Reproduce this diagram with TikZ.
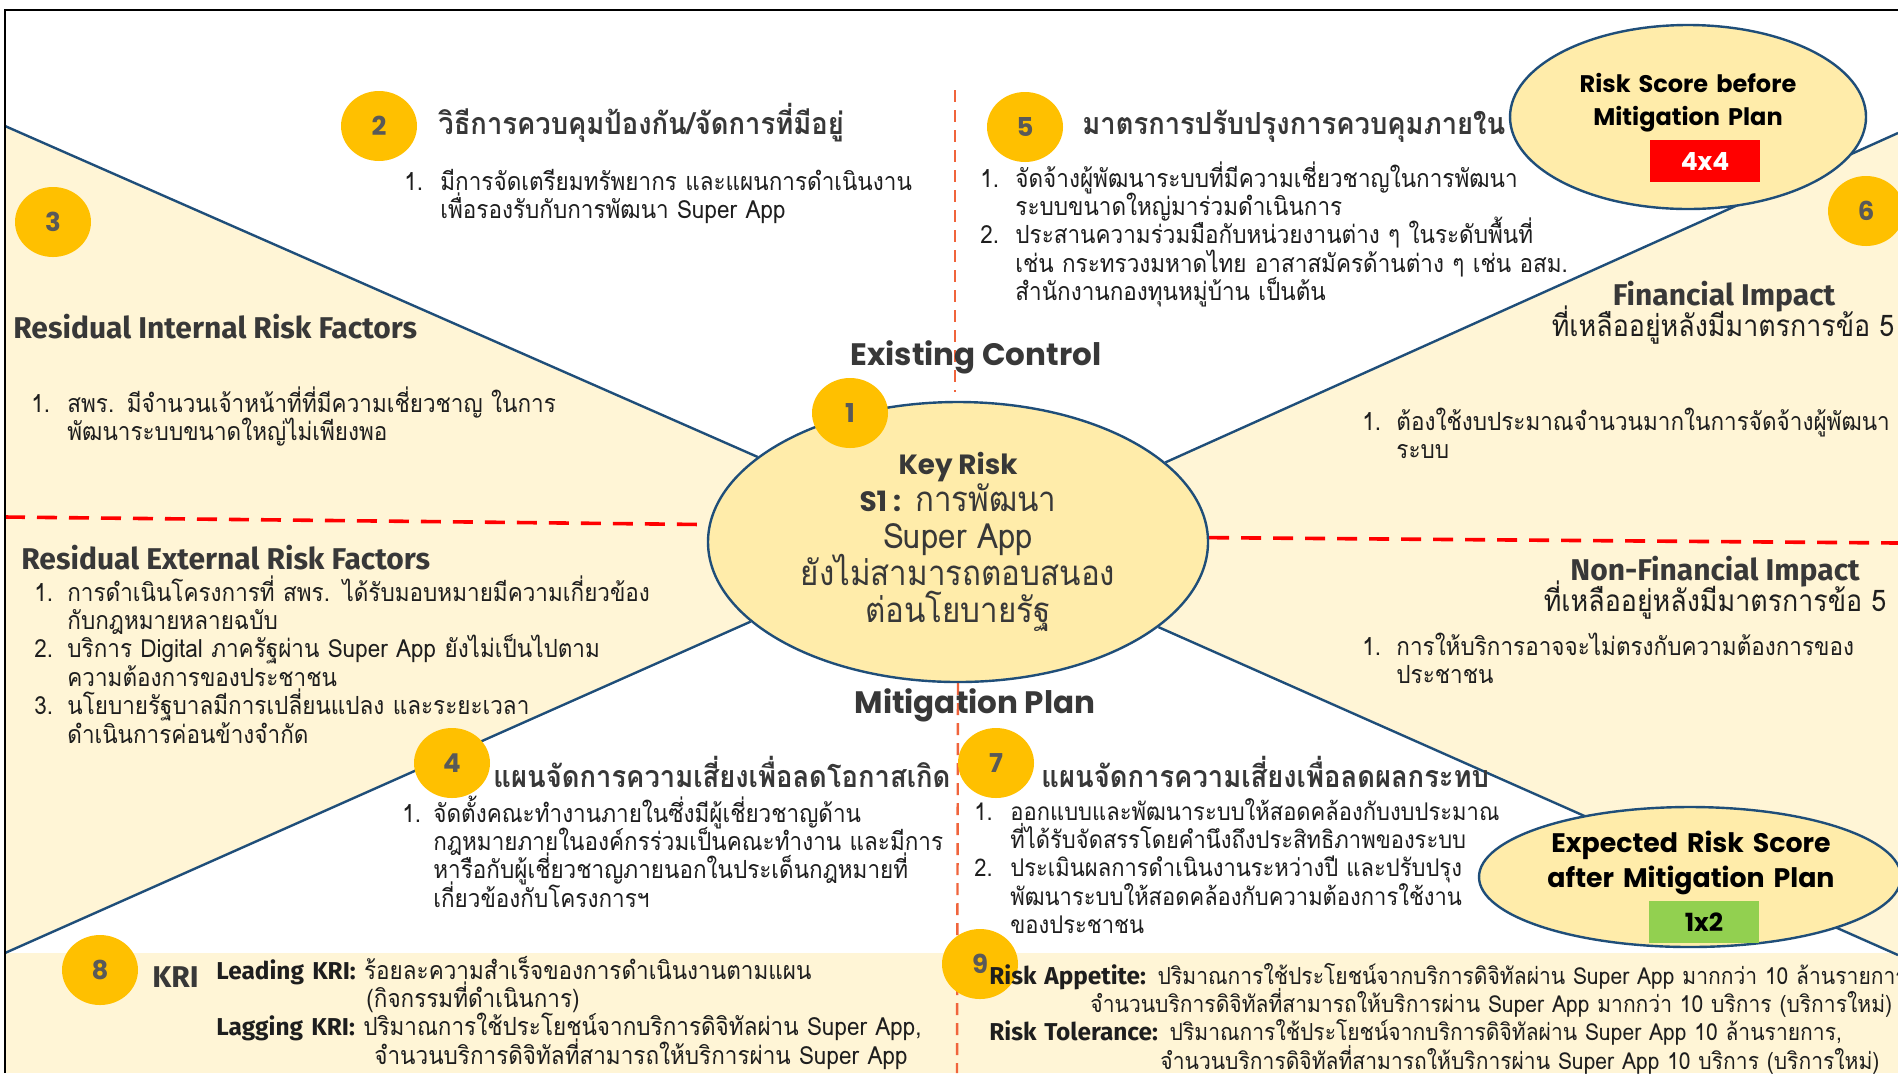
\documentclass[tikz,border=0pt]{standalone}
\usepackage{fontspec}
\setmainfont{Loma}[Script=Thai,FakeStretch=0.9]
\newfontfamily\headfont{Fira Sans}
\newfontfamily\geofont{Poppins}
\usetikzlibrary{shapes.geometric,backgrounds}

\definecolor{riskblue}{RGB}{31,78,121}
\definecolor{cream}{RGB}{255,245,214}
\definecolor{keyfill}{RGB}{255,236,170}
\definecolor{badgegold}{RGB}{255,192,0}
\definecolor{numgrey}{RGB}{89,89,89}
\definecolor{headgrey}{RGB}{56,56,56}
\definecolor{bodyblack}{RGB}{30,30,30}
\definecolor{dashred}{RGB}{255,0,0}
\definecolor{dashorange}{RGB}{240,100,60}
\definecolor{scorered}{RGB}{255,0,0}
\definecolor{scoregreen}{RGB}{146,208,80}

\newcommand{\hd}[1]{{\headfont\bfseries #1}}
\newcommand{\geo}[1]{{\geofont\bfseries #1}}
\newcommand{\hdk}[1]{{\headfont\bfseries\fontsize{12.2}{14.2}\selectfont #1}}
\newcommand{\bodyfont}{\fontsize{12.5}{14.2}\selectfont\lineskiplimit=-50pt\relax}
\newcommand{\planfont}{\fontsize{12.2}{14.2}\selectfont\lineskiplimit=-50pt\relax}
\newcommand{\smallbodyfont}{\fontsize{11.7}{14.2}\selectfont\lineskiplimit=-50pt\relax}
\newcommand{\subfont}{\fontsize{14.9}{16}\selectfont}
\newcommand{\keyfont}{\fontsize{17.4}{18.5}\selectfont\lineskiplimit=-50pt\relax}
\newcommand{\litem}[3][18pt]{\hangindent=#1\hangafter=1\noindent\makebox[#1][l]{#2}#3\par}

\begin{document}
\begin{tikzpicture}[x=0.5pt,y=-0.5pt]

\tikzstyle{badge}=[ellipse,fill=badgegold,minimum width=38pt,minimum height=35pt,inner sep=0pt,text=numgrey,font=\geofont\bfseries\fontsize{13}{15}\selectfont]
\tikzstyle{bigoval}=[ellipse,draw=riskblue,fill=keyfill,line width=1.2pt,inner sep=0pt]
\tikzstyle{wing}=[draw=riskblue,line width=1.2pt]
\tikzstyle{redsplit}=[draw=dashred,line width=1.8pt,dash pattern=on 10pt off 6pt]
\tikzstyle{orangesplit}=[draw=dashorange,line width=1.2pt,dash pattern=on 6pt off 4pt]
\tikzstyle{title}=[anchor=base west,inner sep=0pt,text=headgrey,font=\bfseries\fontsize{15.2}{17}\selectfont]
\tikzstyle{body}=[anchor=base west,inner sep=0pt,text width=330pt,text=bodyblack,font=\bodyfont]
\tikzstyle{latinhead}=[anchor=base,inner sep=0pt,text=headgrey,font=\headfont\bfseries\fontsize{15}{17}\selectfont]
\tikzstyle{geohead}=[anchor=base,inner sep=0pt,text=headgrey,font=\geofont\bfseries\fontsize{15.5}{17}\selectfont]
\tikzstyle{thaisub}=[anchor=base,inner sep=0pt,text=bodyblack,font=\subfont]
\tikzstyle{scorebox}=[minimum width=55pt,minimum height=21pt,inner sep=0pt,font=\geofont\bfseries\fontsize{12.5}{15}\selectfont]

\useasboundingbox (0,0) rectangle (1898,1073);
\clip (0,0) rectangle (1898,1073);

\coordinate (ltop) at (5,126);
\coordinate (lbot) at (5,953);
\coordinate (rtop) at (1898,133);
\coordinate (rbot) at (1898,955);
\coordinate (bandend) at (1898,1073);
\coordinate (lmid) at (5,517);
\coordinate (rmid) at (1898,543);
\coordinate (ctop) at (955,90);
\coordinate (cup) at (955,392);
\coordinate (cbot) at (957,1073);

\node[bigoval,minimum width=250pt,minimum height=140pt,align=center,text=headgrey,font=\keyfont] (keyrisk) at (958,542) {{\fontsize{13.9}{18.5}\selectfont\geo{Key Risk}}\\{\fontsize{14}{18.5}\selectfont\geo{S1 :}} การพัฒนา\\Super App\\ยังไม่สามารถตอบสนอง\\ต่อนโยบายรัฐ};
\node[bigoval,minimum width=178pt,minimum height=92pt] (rsbefore) at (1688,117) {};
\node[bigoval,minimum width=211pt,minimum height=70pt] (rsafter) at (1690,877) {};

\begin{scope}[on background layer]
\clip (0,0) rectangle (1898,1073);
\fill[white] (0,0) rectangle (1898,1073);
\fill[cream] (ltop) -- (keyrisk.157) -- (keyrisk.201) -- (lbot) -- cycle;
\fill[cream] (rtop) -- (keyrisk.21) -- (keyrisk.337) -- (rbot) -- cycle;
\fill[cream] (lbot) rectangle (bandend);
\draw[wing] (ltop) -- (keyrisk.157);
\draw[wing] (lbot) -- (keyrisk.201);
\draw[wing] (rtop) -- (keyrisk.21);
\draw[wing] (rbot) -- (keyrisk.337);
\draw[redsplit] (lmid) -- (keyrisk.176);
\draw[redsplit] (keyrisk.1) -- (rmid);
\draw[orangesplit] (ctop) -- (cup);
\draw[orangesplit] (keyrisk.south) -- (cbot);
\end{scope}

\draw[line width=1pt] (5,1073) -- (5,10) -- (1898,10);

\node[geohead] (existing) at (976,365) {Existing Control};
\node[geohead] (mitigation) at (975,713) {Mitigation Plan};

\node[badge] (n1) at (850,413) {1};

\node[badge] (n2) at (379,126) {2};
\node[title] (t2) at (438,134) {วิธีการควบคุมป้องกัน/จัดการที่มีอยู่};
\node[body] (l2) at (404,190) {\litem{1.}{มีการจัดเตรียมทรัพยากร และแผนการดำเนินงาน\newline เพื่อรองรับกับการพัฒนา Super App}};

\node[badge] (n3) at (53,222) {3};
\node[latinhead,anchor=base west] (t3) at (13,338) {Residual Internal Risk Factors};
\node[body] (l3) at (31,412) {\litem{1.}{สพร. มีจำนวนเจ้าหน้าที่ที่มีความเชี่ยวชาญ ในการ\newline พัฒนาระบบขนาดใหญ่ไม่เพียงพอ}};

\node[latinhead,anchor=base west] (t3b) at (21,569) {Residual External Risk Factors};
\node[body] (l3b) at (34,601) {\litem[16.5pt]{1.}{การดำเนินโครงการที่ สพร. ได้รับมอบหมายมีความเกี่ยวข้อง\newline กับกฎหมายหลายฉบับ}\litem[16.5pt]{2.}{บริการ Digital ภาครัฐผ่าน Super App ยังไม่เป็นไปตาม\newline ความต้องการของประชาชน}\litem[16.5pt]{3.}{นโยบายรัฐบาลมีการเปลี่ยนแปลง และระยะเวลา\newline ดำเนินการค่อนข้างจำกัด}};

\node[badge] (n5) at (1025,127) {5};
\node[title] (t5) at (1082,134) {มาตรการปรับปรุงการควบคุมภายใน};
\node[body] (l5) at (980,187) {\litem[17.5pt]{1.}{จัดจ้างผู้พัฒนาระบบที่มีความเชี่ยวชาญในการพัฒนา\newline ระบบขนาดใหญ่มาร่วมดำเนินการ}\litem[17.5pt]{2.}{ประสานความร่วมมือกับหน่วยงานต่าง ๆ ในระดับพื้นที่\newline เช่น กระทรวงมหาดไทย อาสาสมัครด้านต่าง ๆ เช่น อสม.\newline สำนักงานกองทุนหมู่บ้าน เป็นต้น}};

\node[geohead,text=black,align=center,text width=170pt,font=\geofont\bfseries\fontsize{12}{16.5}\selectfont] (beforetext) at (1688,92) {Risk Score before\\Mitigation Plan};
\node[scorebox,fill=scorered,text=white] (score44) at (1705,161) {4x4};

\node[badge] (n6) at (1866,211) {6};
\node[latinhead] (t6) at (1724,305) {Financial Impact};
\node[thaisub] (s6) at (1723,336) {ที่เหลืออยู่หลังมีมาตรการข้อ 5};
\node[body,text width=262pt] (l6) at (1362,430) {\litem[17pt]{1.}{ต้องใช้งบประมาณจำนวนมากในการจัดจ้างผู้พัฒนา\newline ระบบ}};

\node[latinhead] (t9) at (1715,580) {Non-Financial Impact};
\node[thaisub] (s9) at (1715,611) {ที่เหลืออยู่หลังมีมาตรการข้อ 5};
\node[body,text width=262pt] (l9) at (1362,655) {\litem[17pt]{1.}{การให้บริการอาจจะไม่ตรงกับความต้องการของ\newline ประชาชน}};

\node[badge] (n4) at (452,763) {4};
\node[title] (t4) at (493,787) {แผนจัดการความเสี่ยงเพื่อลดโอกาสเกิด};
\node[body,text width=272pt] (l4) at (402,822) {\litem[15.5pt]{1.}{จัดตั้งคณะทำงานภายในซึ่งมีผู้เชี่ยวชาญด้าน\newline กฎหมายภายในองค์กรร่วมเป็นคณะทำงาน และมีการ\newline หารือกับผู้เชี่ยวชาญภายนอกในประเด็นกฎหมายที่\newline เกี่ยวข้องกับโครงการฯ}};

\node[badge] (n7) at (996,763) {7};
\node[title] (t7) at (1041,787) {แผนจัดการความเสี่ยงเพื่อลดผลกระทบ};
\node[body,text width=266pt,font=\planfont] (l7) at (974,820) {\litem{1.}{ออกแบบและพัฒนาระบบให้สอดคล้องกับงบประมาณ\newline ที่ได้รับจัดสรรโดยคำนึงถึงประสิทธิภาพของระบบ}\litem{2.}{ประเมินผลการดำเนินงานระหว่างปี และปรับปรุง\newline พัฒนาระบบให้สอดคล้องกับความต้องการใช้งาน\newline ของประชาชน}};

\node[geohead,text=black,align=center,text width=170pt,font=\geofont\bfseries\fontsize{13.4}{17.5}\selectfont] (aftertext) at (1691,852) {Expected Risk Score\\after Mitigation Plan};
\node[scorebox,fill=scoregreen,text=black] (score12) at (1704,922) {1x2};

\node[badge] (n8) at (100,970) {8};
\node[latinhead,anchor=base west] (kri) at (152,987) {KRI};
\node[body,text width=400pt] (krilist) at (216,979) {\hdk{Leading KRI:} ร้อยละความสำเร็จของการดำเนินงานตามแผน\\\hspace*{75pt}(กิจกรรมที่ดำเนินการ)\\\hdk{Lagging KRI:} ปริมาณการใช้ประโยชน์จากบริการดิจิทัลผ่าน Super App,\\\hspace*{79pt}จำนวนบริการดิจิทัลที่สามารถให้บริการผ่าน Super App};

\node[badge] (n9) at (980,964) {9};
\node[body,text width=560pt,font=\smallbodyfont] (appetite) at (989,984) {\hdk{Risk Appetite:} ปริมาณการใช้ประโยชน์จากบริการดิจิทัลผ่าน Super App มากกว่า 10 ล้านรายการ\\\hspace*{50.5pt}จำนวนบริการดิจิทัลที่สามารถให้บริการผ่าน Super App มากกว่า 10 บริการ (บริการใหม่)\\\hdk{Risk Tolerance:} ปริมาณการใช้ประโยชน์จากบริการดิจิทัลผ่าน Super App 10 ล้านรายการ,\\\hspace*{85.5pt}จำนวนบริการดิจิทัลที่สามารถให้บริการผ่าน Super App 10 บริการ (บริการใหม่)};

\end{tikzpicture}
\end{document}
